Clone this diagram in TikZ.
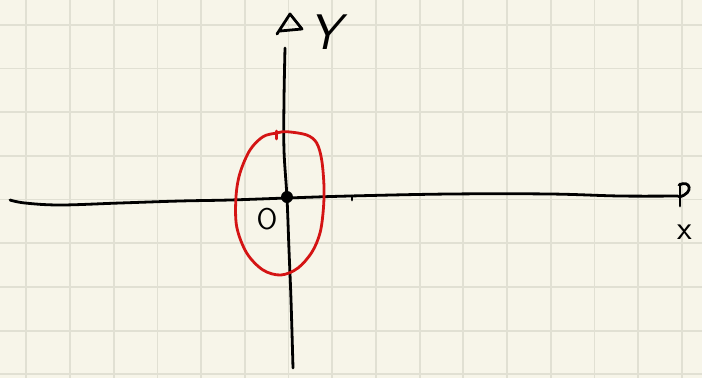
\documentclass[tikz,border=0pt]{standalone}
\begin{document}
\begin{tikzpicture}[x=1pt,y=-1pt,
  gridline/.style={draw=gridc,line width=1.8pt},
  ink/.style={draw=black,line width=2.8pt,line cap=round,line join=round},
  redink/.style={draw=redc,line width=2.8pt,line cap=round,line join=round},
  lbl/.style={inner sep=0pt,font=\sffamily}]
\definecolor{paper}{HTML}{F7F5E9}
\definecolor{gridc}{HTML}{E1E0D3}
\definecolor{redc}{HTML}{D41414}
\useasboundingbox (0,0) rectangle (702,378);
\fill[paper] (0,0) rectangle (702,378);
\foreach \k in {0,...,15} \draw[gridline] ({26.3+43.7*\k},0) -- ({26.3+43.7*\k},378);
\foreach \k in {0,...,8} \draw[gridline] (0,{24.7+43.7*\k}) -- (702,{24.7+43.7*\k});
% x axis
\draw[ink] plot[smooth,tension=0.6] coordinates {(10,200) (25,203) (60,205) (120,203) (180,201) (230,200) (287,198) (350,196) (450,194) (550,194) (620,196) (678,196)};
\draw[ink] (352,196) -- (352,200);
% x arrow
\draw[ink] (680,184) -- (680,206);
\draw[ink] (679,185) .. controls (690,179) and (695,193) .. (679,197);
% y axis
\draw[ink] plot[smooth,tension=0.6] coordinates {(285,48) (284,100) (284,150) (287,198) (289,250) (291,300) (293,368)};
% y arrow
\draw[ink] (277,34) -- (290,14) -- (302,29) -- (280,31);
% red loop
\draw[redink] plot[smooth cycle,tension=0.55] coordinates {(286.7,131.7) (306.7,135) (316.7,143) (321.7,160) (324,186.7) (323.3,210) (320,233) (312,252) (298,268) (281,275) (263,270) (246.7,253) (236.7,226.7) (236,196.7) (240,173) (250,150) (263,136.7) (276.7,133)};
\draw[redink] (276.7,139) -- (276.7,131);
% origin dot
\node[circle,fill=black,minimum size=12pt,inner sep=0pt] (origin) at (287,197) {};
% labels
\node[lbl,font=\sffamily\itshape\fontsize{50}{50}\selectfont] (ylabel) at (325,32) {Y};
\node[lbl,font=\sffamily\fontsize{34}{34}\selectfont] (xlabel) at (685,232) {x};
\node[lbl,font=\sffamily\fontsize{30}{30}\selectfont] (olabel) at (267,219) {O};
\end{tikzpicture}
\end{document}
